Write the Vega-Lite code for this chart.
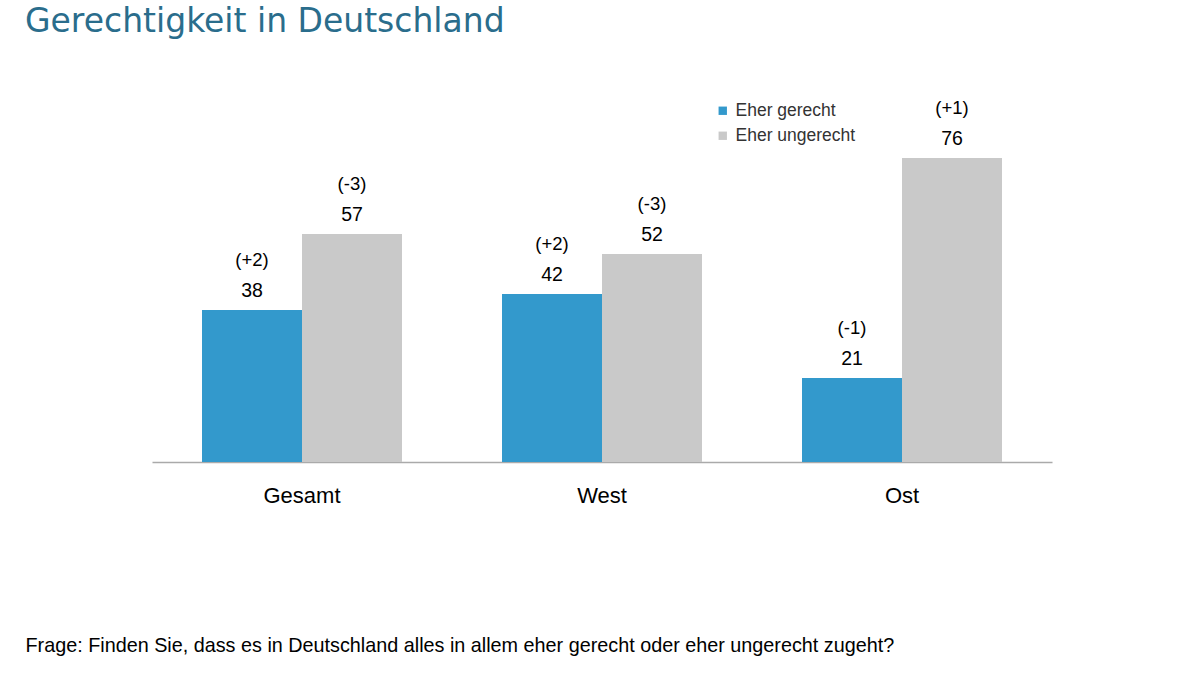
{
  "$schema": "https://vega.github.io/schema/vega-lite/v6.json",
  "width": 900,
  "height": 400,
  "autosize": {"type": "none"},
  "padding": {"left": 152, "top": 62, "right": 148, "bottom": 213},
  "background": "white",
  "title": {
    "text": "Gerechtigkeit in Deutschland",
    "anchor": "start",
    "frame": "group",
    "dx": -127,
    "dy": 31,
    "offset": 28,
    "baseline": "alphabetic",
    "font": "DejaVu Sans",
    "fontSize": 33,
    "fontWeight": "normal",
    "color": "#2a6d8c"
  },
  "config": {
    "view": {"stroke": null},
    "font": "Liberation Sans"
  },
  "data": {
    "values": [
      {"region": "Gesamt", "group": "Eher gerecht", "value": 38, "change": "(+2)"},
      {"region": "Gesamt", "group": "Eher ungerecht", "value": 57, "change": "(-3)"},
      {"region": "West", "group": "Eher gerecht", "value": 42, "change": "(+2)"},
      {"region": "West", "group": "Eher ungerecht", "value": 52, "change": "(-3)"},
      {"region": "Ost", "group": "Eher gerecht", "value": 21, "change": "(-1)"},
      {"region": "Ost", "group": "Eher ungerecht", "value": 76, "change": "(+1)"}
    ]
  },
  "encoding": {
    "x": {
      "field": "region",
      "type": "nominal",
      "sort": ["Gesamt", "West", "Ost"],
      "scale": {"paddingInner": 0, "paddingOuter": 0},
      "axis": {
        "title": "Frage: Finden Sie, dass es in Deutschland alles in allem eher gerecht oder eher ungerecht zugeht?",
        "titleAnchor": "start",
        "titleAlign": "left",
        "titleX": -127,
        "titleY": 183,
        "titleBaseline": "middle",
        "titleFont": "Liberation Sans",
        "titleFontSize": 19.8,
        "titleFontWeight": "normal",
        "titleColor": "#000000",
        "labelAngle": 0,
        "labelFont": "Liberation Sans",
        "labelFontSize": 22,
        "labelColor": "#000000",
        "labelPadding": 33,
        "labelBaseline": "middle",
        "ticks": false,
        "domainColor": "#aaaaaa",
        "domainWidth": 1.5
      }
    },
    "xOffset": {
      "field": "group",
      "type": "nominal",
      "sort": ["Eher gerecht", "Eher ungerecht"],
      "scale": {"paddingOuter": 0.5, "paddingInner": 0}
    },
    "y": {
      "field": "value",
      "type": "quantitative",
      "scale": {"domain": [0, 100]},
      "axis": null
    }
  },
  "layer": [
    {
      "mark": {"type": "bar"},
      "encoding": {
        "color": {
          "field": "group",
          "type": "nominal",
          "sort": ["Eher gerecht", "Eher ungerecht"],
          "scale": {"range": ["#3399cc", "#c9c9c9"]},
          "legend": {
            "title": null,
            "orient": "none",
            "legendX": 562,
            "legendY": 40,
            "symbolType": "square",
            "symbolSize": 70,
            "symbolStrokeWidth": 0,
            "labelFont": "Liberation Sans",
            "labelFontSize": 17.5,
            "labelColor": "#333333",
            "rowPadding": 6,
            "labelOffset": 4
          }
        }
      }
    },
    {
      "mark": {"type": "text", "dy": -19, "baseline": "middle", "fontSize": 19.5, "font": "Liberation Sans", "color": "#000000"},
      "encoding": {"text": {"field": "value", "type": "quantitative"}}
    },
    {
      "mark": {"type": "text", "dy": -50, "baseline": "middle", "fontSize": 18.5, "font": "Liberation Sans", "color": "#000000"},
      "encoding": {"text": {"field": "change", "type": "nominal"}}
    }
  ]
}
